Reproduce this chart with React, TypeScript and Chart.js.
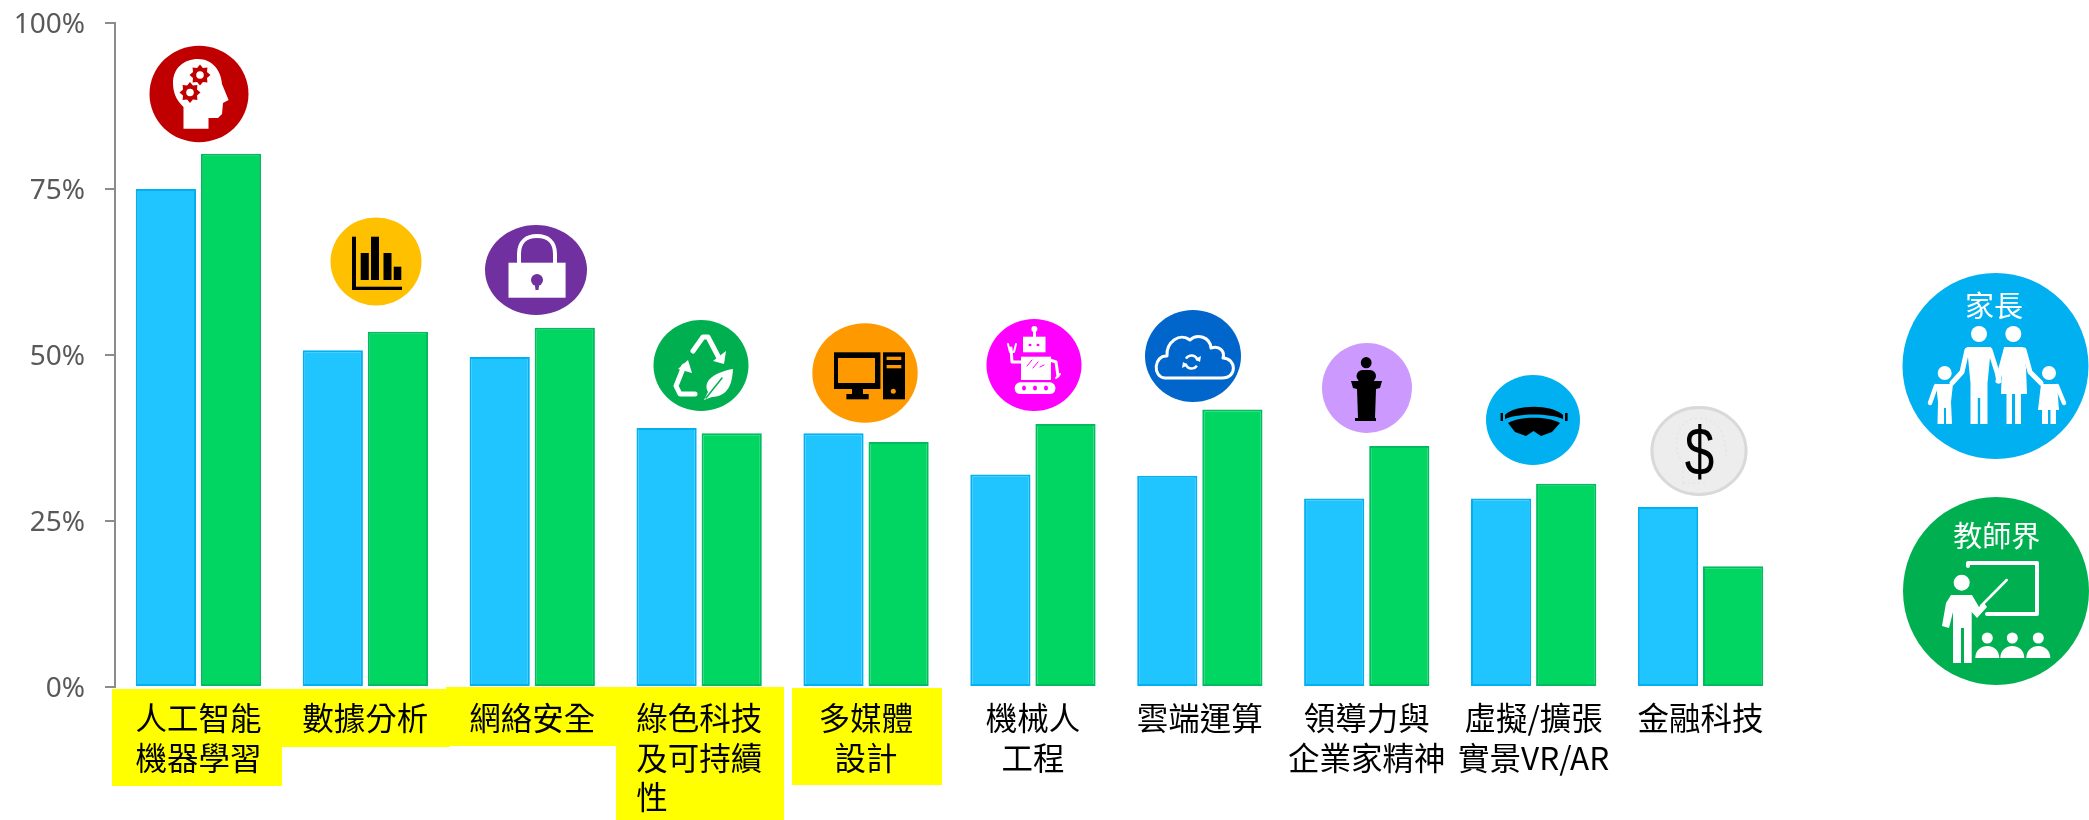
import React, { useEffect, useRef } from "react";
import { Chart, registerables } from "chart.js";

Chart.register(...registerables);

const categories: (string | string[])[] = [
  ["人工智能", "機器學習"],
  ["數據分析"],
  ["網絡安全"],
  ["綠色科技", "及可持續", "性　　　"],
  ["多媒體", "設計"],
  ["機械人", "工程"],
  ["雲端運算"],
  ["領導力與", "企業家精神"],
  ["虛擬/擴張", "實景VR/AR"],
  ["金融科技"],
];
const parents = [75.0, 50.7, 49.7, 39.0, 38.2, 32.0, 31.8, 28.4, 28.4, 27.1];
const teachers = [80.3, 53.5, 54.1, 38.2, 36.9, 39.6, 41.8, 36.3, 30.6, 18.2];
const seriesNames = ["家長", "教師界"];
const yTicks = [0, 25, 50, 75, 100];

const CJK = '"Noto Sans CJK TC", "Noto Sans", sans-serif';

type Ctx = CanvasRenderingContext2D;

function ell(c: Ctx, x: number, y: number, rx: number, ry: number, fill: string) {
  c.fillStyle = fill;
  c.beginPath();
  c.ellipse(x, y, rx, ry, 0, 0, Math.PI * 2);
  c.fill();
}
function poly(c: Ctx, pts: number[], fill: string) {
  c.fillStyle = fill;
  c.beginPath();
  for (let i = 0; i < pts.length; i += 2) {
    if (i === 0) c.moveTo(pts[i], pts[i + 1]);
    else c.lineTo(pts[i], pts[i + 1]);
  }
  c.closePath();
  c.fill();
}
function line(c: Ctx, pts: number[], color: string, w: number) {
  c.strokeStyle = color;
  c.lineWidth = w;
  c.lineCap = "round";
  c.lineJoin = "round";
  c.beginPath();
  for (let i = 0; i < pts.length; i += 2) {
    if (i === 0) c.moveTo(pts[i], pts[i + 1]);
    else c.lineTo(pts[i], pts[i + 1]);
  }
  c.stroke();
}
function rect(c: Ctx, x0: number, y0: number, x1: number, y1: number, fill: string) {
  c.fillStyle = fill;
  c.fillRect(x0, y0, x1 - x0, y1 - y0);
}
function gear(c: Ctx, x: number, y: number, r: number, fill: string, hole: string) {
  c.fillStyle = fill;
  c.beginPath();
  const n = 8;
  for (let i = 0; i < n * 2; i++) {
    const a = (i * Math.PI) / n;
    const rr = i % 2 === 0 ? r : r * 0.72;
    const px = x + rr * Math.cos(a);
    const py = y + rr * Math.sin(a);
    if (i === 0) c.moveTo(px, py);
    else c.lineTo(px, py);
  }
  c.closePath();
  c.fill();
  ell(c, x, y, r * 0.36, r * 0.36, hole);
}

function headIcon(c: Ctx) {
  ell(c, 199, 94, 49.5, 48.3, "#C00000");
  c.fillStyle = "#FFFFFF";
  c.beginPath();
  c.moveTo(183.5, 128.7);
  c.lineTo(183.5, 107);
  c.bezierCurveTo(176, 100, 173, 92, 173, 83);
  c.bezierCurveTo(173, 68, 184, 59, 198, 59);
  c.bezierCurveTo(212, 59, 221, 70, 222, 84);
  c.lineTo(228.6, 100);
  c.lineTo(223, 103);
  c.lineTo(222, 114);
  c.lineTo(218, 118);
  c.lineTo(208.5, 118);
  c.lineTo(208.5, 128.7);
  c.closePath();
  c.fill();
  gear(c, 200, 75, 10.5, "#C00000", "#FFFFFF");
  gear(c, 190, 92.5, 10.5, "#C00000", "#FFFFFF");
}
function barsIcon(c: Ctx) {
  ell(c, 376, 261.5, 45.5, 44, "#FFC000");
  const k = "#000000";
  rect(c, 352, 236.7, 356, 290, k);
  rect(c, 352, 286.7, 402, 290, k);
  rect(c, 360.7, 253, 368.8, 280, k);
  rect(c, 371, 236.7, 379, 280, k);
  rect(c, 383.5, 253, 391.5, 280, k);
  rect(c, 393.7, 266.7, 401.3, 280, k);
}
function lockIcon(c: Ctx) {
  ell(c, 536, 270, 51, 45, "#7030A0");
  const w = "#FFFFFF";
  rect(c, 508.5, 262.7, 565.6, 297.7, w);
  c.strokeStyle = w;
  c.lineWidth = 4;
  c.lineCap = "butt";
  c.beginPath();
  c.moveTo(519, 263);
  c.lineTo(519, 254);
  c.bezierCurveTo(519, 241, 527, 236, 537, 236);
  c.bezierCurveTo(547, 236, 555, 241, 555, 254);
  c.lineTo(555, 263);
  c.stroke();
  ell(c, 537, 280, 6, 6, "#7030A0");
  poly(c, [534.5, 282, 539.5, 282, 538.5, 290, 535.5, 290], "#7030A0");
}
function recycleIcon(c: Ctx) {
  ell(c, 701, 365.5, 47.5, 45.5, "#00B050");
  const w = "#FFFFFF";
  line(c, [693, 351, 703, 337, 708, 337, 719, 358], w, 5);
  poly(c, [713, 361, 726, 351, 724, 364], w);
  line(c, [684, 366, 676, 386, 680, 394, 695, 394], w, 5);
  poly(c, [678, 369, 688, 360, 692, 373], w);
  c.fillStyle = w;
  c.beginPath();
  c.moveTo(733, 369);
  c.bezierCurveTo(732, 385, 728, 396, 712, 397);
  c.lineTo(704, 400);
  c.lineTo(708, 392);
  c.bezierCurveTo(702, 380, 716, 372, 733, 369);
  c.closePath();
  c.fill();
  line(c, [706, 398, 722, 378], "#00B050", 1.5);
}
function computerIcon(c: Ctx) {
  ell(c, 865, 373, 52.7, 49.7, "#FF9900");
  const k = "#000000";
  const o = "#FF9900";
  rect(c, 834, 352.3, 880.4, 389, k);
  rect(c, 838, 358, 875, 383, o);
  rect(c, 852, 389, 863, 394, k);
  rect(c, 846.4, 394, 868.7, 399.3, k);
  rect(c, 883, 352.3, 905, 399.3, k);
  rect(c, 886.6, 356.7, 901.3, 360, o);
  rect(c, 886.6, 365, 901.3, 368.3, o);
  ell(c, 893.3, 391.3, 2.5, 2.5, o);
}
function robotIcon(c: Ctx) {
  const m = "#FF00FF";
  const w = "#FFFFFF";
  ell(c, 1034, 365, 47.5, 46, m);
  ell(c, 1034.4, 329, 3, 3, w);
  rect(c, 1033, 329, 1036, 337, w);
  rect(c, 1023, 336.7, 1045.5, 352.3, w);
  ell(c, 1030, 345, 1.5, 1.2, m);
  ell(c, 1038, 345, 1.5, 1.2, m);
  rect(c, 1021, 356.7, 1051, 380, w);
  line(c, [1027, 366, 1032, 360], m, 1);
  line(c, [1033, 368, 1038, 362], m, 1);
  line(c, [1040, 367, 1044, 365], m, 1);
  line(c, [1022, 362, 1012, 362, 1011, 348], w, 3);
  line(c, [1008, 344, 1010, 352, 1014, 352, 1016, 344], w, 2);
  line(c, [1050, 360, 1056, 362, 1058, 376], w, 3);
  line(c, [1056, 378, 1060, 374], w, 2);
  c.fillStyle = w;
  c.beginPath();
  c.roundRect(1014.7, 382.3, 40.7, 11.7, 5.5);
  c.fill();
  ell(c, 1024, 388, 2, 2.5, m);
  ell(c, 1035, 388, 2, 2.5, m);
  ell(c, 1046, 388, 2, 2.5, m);
}
function cloudIcon(c: Ctx) {
  ell(c, 1193, 356, 48, 46, "#0066CC");
  c.strokeStyle = "#FFFFFF";
  c.lineWidth = 3;
  c.lineJoin = "round";
  c.beginPath();
  c.moveTo(1165, 378);
  c.bezierCurveTo(1152, 377, 1154, 355, 1167, 356);
  c.bezierCurveTo(1166, 342, 1180, 332, 1190, 340);
  c.bezierCurveTo(1197, 333, 1210, 337, 1211, 348);
  c.bezierCurveTo(1220, 345, 1225, 352, 1223, 358);
  c.bezierCurveTo(1236, 358, 1238, 378, 1222, 378);
  c.closePath();
  c.stroke();
  c.lineWidth = 2.5;
  c.lineCap = "butt";
  c.beginPath();
  c.arc(1191.5, 362, 6.5, -2.6, -0.2);
  c.stroke();
  c.beginPath();
  c.arc(1191.5, 362, 6.5, 0.6, 2.9);
  c.stroke();
  poly(c, [1195, 359, 1201, 356, 1200, 362], "#FFFFFF");
  poly(c, [1188, 365, 1182, 368, 1183, 362], "#FFFFFF");
}
function podiumIcon(c: Ctx) {
  ell(c, 1367, 388, 45, 45, "#CC99FF");
  const k = "#000000";
  ell(c, 1366.2, 362.7, 5.4, 5.6, k);
  c.fillStyle = k;
  c.beginPath();
  c.roundRect(1356.5, 370, 19.5, 12, 6);
  c.fill();
  poly(c, [1351, 381, 1382, 381, 1380, 388, 1376, 389, 1375, 418, 1358, 418, 1357, 389, 1353, 388], k);
  rect(c, 1355, 418, 1376, 421, k);
}
function gogglesIcon(c: Ctx) {
  ell(c, 1533, 420, 47, 45, "#00B0F0");
  const k = "#000000";
  c.fillStyle = k;
  c.beginPath();
  c.moveTo(1505, 415);
  c.bezierCurveTo(1515, 404, 1552, 404, 1563, 415);
  c.lineTo(1563, 419);
  c.bezierCurveTo(1550, 413, 1518, 413, 1505, 419);
  c.closePath();
  c.fill();
  c.beginPath();
  c.moveTo(1508, 423);
  c.bezierCurveTo(1520, 416, 1548, 416, 1560, 423);
  c.lineTo(1552, 432);
  c.lineTo(1541, 436);
  c.lineTo(1533.5, 431);
  c.lineTo(1526, 436);
  c.lineTo(1515, 432);
  c.closePath();
  c.fill();
  rect(c, 1500.6, 413, 1503, 421, k);
  rect(c, 1565, 413, 1567.6, 421, k);
}
function coinIcon(c: Ctx) {
  ell(c, 1699, 451, 48.5, 45, "#EDEDED");
  c.strokeStyle = "#D9D9D9";
  c.lineWidth = 3;
  c.beginPath();
  c.ellipse(1699, 451, 47, 43.5, 0, 0, Math.PI * 2);
  c.stroke();
  // faint head behind the dollar sign
  c.strokeStyle = "#E0E0E0";
  c.lineWidth = 1;
  c.setLineDash([2, 3]);
  c.beginPath();
  c.moveTo(1683, 483);
  c.lineTo(1683, 463);
  c.bezierCurveTo(1672, 450, 1674, 418, 1699, 418);
  c.bezierCurveTo(1716, 418, 1724, 432, 1725, 445);
  c.lineTo(1727, 458);
  c.moveTo(1683, 483);
  c.lineTo(1708, 483);
  c.stroke();
  c.setLineDash([]);
  c.fillStyle = "#000000";
  c.font = '68px "Liberation Sans", sans-serif';
  c.textAlign = "center";
  c.textBaseline = "middle";
  c.save();
  c.translate(1699.5, 456);
  c.scale(0.78, 1);
  c.fillText("$", 0, 0);
  c.restore();
}
function person(c: Ctx, x: number, headY: number, r: number, y0: number, y1: number, hw: number, legW: number, mid: number) {
  const w = "#FFFFFF";
  ell(c, x, headY, r, r, w);
  poly(c, [x - hw, y0, x + hw, y0, x + hw * 0.72, mid, x + legW, mid, x + legW, y1, x + 1.2, y1, x + 1.2, mid + 16, x - 1.2, mid + 16, x - 1.2, y1, x - legW, y1, x - legW, mid, x - hw * 0.72, mid], w);
}
function parentsLegend(c: Ctx) {
  ell(c, 1995.5, 366, 93, 93, "#00B0F0");
  const w = "#FFFFFF";
  person(c, 1979, 334, 8, 347, 424, 12, 8.5, 382);
  ell(c, 2013.3, 334, 8, 8, w);
  poly(c, [2004, 347, 2023, 347, 2026, 368, 2027, 394, 2001, 394, 2002, 368], w);
  rect(c, 2006.5, 392, 2012, 424, w);
  rect(c, 2015, 392, 2021, 424, w);
  line(c, [1967, 350, 1962, 372, 1952, 383], w, 5);
  line(c, [1990, 350, 1997, 372, 1999, 381], w, 5);
  line(c, [2006, 350, 2000, 372, 1998, 381], w, 5);
  line(c, [2024, 350, 2030, 372, 2041, 383], w, 5);
  ell(c, 1944.7, 373, 7, 7, w);
  poly(c, [1936, 384, 1953, 384, 1951, 402, 1952, 424, 1946, 424, 1946, 408, 1944, 408, 1944, 424, 1937.5, 424, 1938, 402], w);
  line(c, [1936, 386, 1930, 403], w, 4.5);
  ell(c, 2049, 373, 7, 7, w);
  poly(c, [2041, 384, 2057, 384, 2059, 410, 2056, 410, 2056, 424, 2050.5, 424, 2050.5, 410, 2048, 410, 2048, 424, 2042, 424, 2042, 410, 2038, 410], w);
  line(c, [2057, 386, 2064, 403], w, 4.5);
  c.fillStyle = w;
  c.font = `29px ${CJK}`;
  c.textAlign = "center";
  c.textBaseline = "middle";
  c.fillText(seriesNames[0], 1994, 306);
}
function teachersLegend(c: Ctx) {
  ell(c, 1996, 591, 93, 94, "#00B050");
  const w = "#FFFFFF";
  ell(c, 1961.7, 582.7, 8, 8, w);
  poly(c, [1951, 595, 1972, 595, 1979, 607, 1984, 603, 1987, 607, 1977, 618, 1971.7, 612, 1971.7, 663, 1964, 663, 1964, 628, 1961, 628, 1961, 663, 1953, 663, 1953, 612, 1949, 628, 1942, 626, 1946, 603], w);
  line(c, [1968, 566, 1968, 563, 2037, 563, 2037, 614, 1987, 614], w, 4);
  line(c, [1981, 606, 2006.7, 580], w, 2.5);
  for (const x of [1987.3, 2012.3, 2038.3]) {
    ell(c, x, 638, 5.5, 5.5, w);
    c.fillStyle = w;
    c.beginPath();
    c.moveTo(x - 12, 658);
    c.bezierCurveTo(x - 12, 650, x - 6, 646, x, 646);
    c.bezierCurveTo(x + 6, 646, x + 12, 650, x + 12, 658);
    c.closePath();
    c.fill();
  }
  c.fillStyle = w;
  c.font = `29px ${CJK}`;
  c.textAlign = "center";
  c.textBaseline = "middle";
  c.fillText(seriesNames[1], 1996.7, 536);
}

const decorations = {
  id: "decorations",
  beforeDraw(chart: any) {
    const c: Ctx = chart.ctx;
    c.save();
    c.fillStyle = "#FFFF00";
    c.fillRect(112, 689, 170, 97);
    c.fillRect(282, 689, 168, 58);
    c.fillRect(446, 687, 170, 59);
    c.fillRect(616, 687, 168, 133);
    c.fillRect(792, 688, 150, 97);
    c.restore();
  },
  afterDraw(chart: any) {
    const c: Ctx = chart.ctx;
    c.save();
    headIcon(c);
    barsIcon(c);
    lockIcon(c);
    recycleIcon(c);
    computerIcon(c);
    robotIcon(c);
    cloudIcon(c);
    podiumIcon(c);
    gogglesIcon(c);
    coinIcon(c);
    parentsLegend(c);
    teachersLegend(c);
    c.restore();
  },
};

export default function App() {
  const ref = useRef<HTMLCanvasElement>(null);
  useEffect(() => {
    const chart = new Chart(ref.current!, {
      type: "bar",
      data: {
        labels: categories as any,
        datasets: [
          {
            label: seriesNames[0],
            data: parents,
            backgroundColor: "#20C5FF",
            borderColor: "#00B0F0",
            borderWidth: 2,
            borderSkipped: false,
          },
          {
            label: seriesNames[1],
            data: teachers,
            backgroundColor: "#00D661",
            borderColor: "#00BC5E",
            borderWidth: 2,
            borderSkipped: false,
          },
        ],
      },
      options: {
        responsive: false,
        animation: false,
        datasets: { bar: { categoryPercentage: 0.78, barPercentage: 0.925 } },
        layout: { padding: { top: 23, right: 305, left: 0, bottom: 0 } },
        plugins: { legend: { display: false }, tooltip: { enabled: false }, title: { display: false } },
        scales: {
          x: {
            grid: { display: false },
            border: { display: false },
            ticks: {
              autoSkip: false,
              maxRotation: 0,
              minRotation: 0,
              padding: 4,
              color: "#000000",
              font: { family: CJK, size: 31.5, lineHeight: 1.24 },
            },
            afterFit(scale: any) {
              scale.height = 133;
              scale.paddingLeft = 0;
              scale.paddingRight = 0;
            },
          },
          y: {
            min: 0,
            max: 100,
            afterBuildTicks(scale: any) {
              scale.ticks = yTicks.map((value) => ({ value }));
            },
            grid: { drawOnChartArea: false, drawTicks: true, tickLength: 10, color: "#8C8C8C", lineWidth: 2 },
            border: { display: true, color: "#8C8C8C", width: 2 },
            ticks: {
              padding: 20,
              color: "#595959",
              labelOffset: 2,
              font: { family: '"Noto Sans", sans-serif', size: 28 },
              callback: (v: any) => `${v}%`,
            },
            afterFit(scale: any) {
              scale.width = 115;
              scale.paddingTop = 0;
              scale.paddingBottom = 0;
            },
          },
        },
      },
      plugins: [decorations],
    } as any);
    return () => chart.destroy();
  }, []);
  return (
    <div style={{ position: "absolute", left: 0, top: 0, width: 2089, height: 820, background: "#FFFFFF" }}>
      <canvas ref={ref} width={2089} height={820} style={{ display: "block", width: 2089, height: 820 }} />
    </div>
  );
}
